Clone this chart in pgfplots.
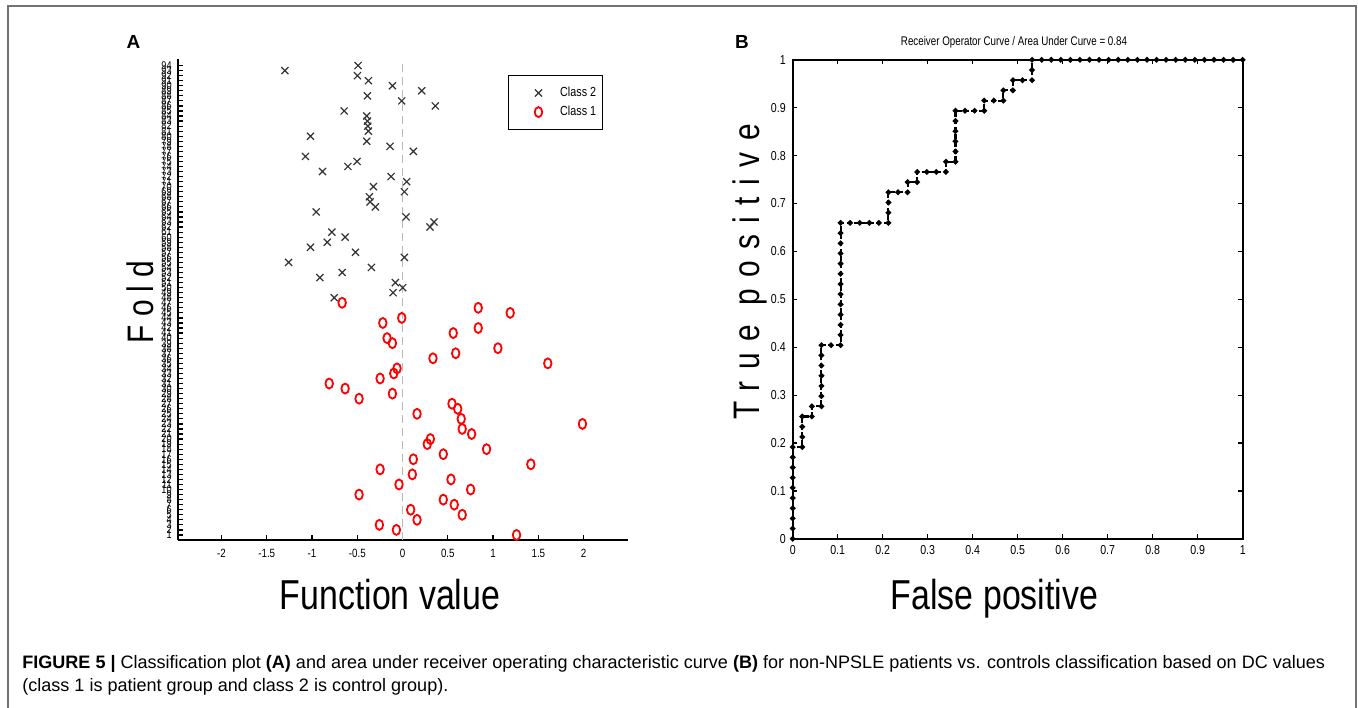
\documentclass[border=0pt]{standalone}
\usepackage{pgfplots}
\pgfplotsset{compat=1.18}
\usepackage{pgfplotstable}
\usepackage{fontspec}
\setmainfont{Liberation Sans}
\newfontfamily\condfont[FakeStretch=0.82]{Liberation Sans}
\newfontfamily\titlefont[FakeStretch=0.78]{Liberation Sans}
\newfontfamily\bigfont[FakeStretch=0.81]{Liberation Sans}

% class 1 (patients) and class 2 (controls): fold, function value
\pgfplotstableread[row sep=\\]{
fold x\\
1 1.259\\ 2 -0.068\\ 3 -0.256\\ 4 0.160\\ 5 0.659\\ 6 0.090\\ 7 0.571\\ 8 0.450\\
9 -0.480\\ 10 0.752\\ 11 -0.039\\ 12 0.535\\ 13 0.108\\ 14 -0.248\\ 15 1.417\\ 16 0.119\\
17 0.450\\ 18 0.928\\ 19 0.273\\ 20 0.307\\ 21 0.763\\ 22 0.659\\ 23 1.987\\ 24 0.648\\
25 0.160\\ 26 0.609\\ 27 0.546\\ 28 -0.480\\ 29 -0.112\\ 30 -0.634\\ 31 -0.810\\ 32 -0.248\\
33 -0.097\\ 34 -0.061\\ 35 1.604\\ 36 0.336\\ 37 0.587\\ 38 1.053\\ 39 -0.112\\ 40 -0.171\\
41 0.560\\ 42 0.836\\ 43 -0.218\\ 44 -0.009\\ 45 1.189\\ 46 0.836\\ 47 -0.667\\
}\classone
\pgfplotstableread[row sep=\\]{
fold x\\
48 -0.755\\ 49 -0.105\\ 50 0.002\\ 51 -0.079\\ 52 -0.913\\ 53 -0.667\\ 54 -0.344\\ 55 -1.259\\
56 0.020\\ 57 -0.520\\ 58 -1.017\\ 59 -0.832\\ 60 -0.634\\ 61 -0.781\\ 62 0.303\\ 63 0.347\\
64 0.039\\ 65 -0.954\\ 66 -0.300\\ 67 -0.358\\ 68 -0.366\\ 69 0.020\\ 70 -0.322\\ 71 0.046\\
72 -0.127\\ 73 -0.884\\ 74 -0.604\\ 75 -0.502\\ 76 -1.072\\ 77 0.119\\ 78 -0.138\\ 79 -0.395\\
80 -1.017\\ 81 -0.377\\ 82 -0.384\\ 83 -0.388\\ 84 -0.395\\ 85 -0.645\\ 86 0.362\\ 87 -0.009\\
88 -0.388\\ 89 0.212\\ 90 -0.112\\ 91 -0.377\\ 92 -0.498\\ 93 -1.299\\ 94 -0.491\\
}\classtwo
% ROC steps, counts of false and true positives out of 47
\pgfplotstableread[row sep=\\]{
fp tp\\
0 0\\ 0 1\\ 0 2\\ 0 3\\ 0 4\\ 0 5\\ 0 6\\ 0 7\\ 0 8\\ 0 9\\
1 9\\ 1 10\\ 1 11\\ 1 12\\ 2 12\\ 2 13\\ 3 13\\
3 14\\ 3 15\\ 3 16\\ 3 17\\ 3 18\\ 3 19\\ 4 19\\ 5 19\\
5 20\\ 5 21\\ 5 22\\ 5 23\\ 5 24\\ 5 25\\ 5 26\\ 5 27\\ 5 28\\ 5 29\\ 5 30\\ 5 31\\
6 31\\ 7 31\\ 8 31\\ 9 31\\ 10 31\\ 10 32\\ 10 33\\ 10 34\\ 11 34\\ 12 34\\
12 35\\ 13 35\\ 13 36\\ 14 36\\ 15 36\\ 16 36\\ 16 37\\ 17 37\\
17 38\\ 17 39\\ 17 40\\ 17 41\\ 17 42\\ 18 42\\ 19 42\\ 20 42\\
20 43\\ 21 43\\ 22 43\\ 22 44\\ 23 44\\ 23 45\\ 24 45\\ 25 45\\ 25 46\\ 25 47\\
26 47\\ 27 47\\ 28 47\\ 29 47\\ 30 47\\ 31 47\\ 32 47\\ 33 47\\ 34 47\\ 35 47\\ 36 47\\
37 47\\ 38 47\\ 39 47\\ 40 47\\ 41 47\\ 42 47\\ 43 47\\ 44 47\\ 45 47\\ 46 47\\ 47 47\\
}\roc

\begin{document}
\begin{tikzpicture}
\path[use as bounding box] (0,0) rectangle (679bp,-354bp);
\draw[black!55, line width=1bp] (3.75bp,-354bp) -- (3.75bp,-3bp) -- (677.75bp,-3bp) -- (677.75bp,-354bp);

% panel A
\begin{axis}[
  at={(89bp,-270bp)}, anchor=south west,
  width=225bp, height=240.5bp, scale only axis,
  xmin=-2.48, xmax=2.49, ymin=0, ymax=95.3,
  axis lines=left, axis line style={-, line width=0.8bp},
  xtick={-2,-1.5,-1,-0.5,0,0.5,1,1.5,2},
  ytick={1,...,94},
  tick align=inside, major tick length=2.3bp,
  tick style={black, line width=0.6bp},
  /pgf/number format/assume math mode=true,
  xticklabel style={font=\condfont\fontsize{6}{7}\selectfont, yshift=-1bp},
  yticklabel style={font=\condfont\fontsize{5.6}{5}\selectfont, inner sep=0pt, xshift=-3bp},
  legend style={at={(0.733,0.967)}, anchor=north west, draw=black, line width=0.7bp,
    font=\condfont\fontsize{6.6}{7}\selectfont, inner xsep=1.3bp, inner ysep=3.6bp, row sep=-0.7bp},
  legend cell align=left,
  legend image code/.code={\path (0cm,0cm) (0.77cm,0cm); \draw[#1] plot coordinates {(0.47cm,0cm)};},
]
\addplot[black!28, line width=0.8bp, dash pattern=on 4bp off 2.5bp, forget plot] coordinates {(0,0) (0,95.3)};
\addplot[only marks, mark=x, mark size=2.5bp, black!80, mark options={line width=0.6bp}]
  table[x=x, y=fold] {\classtwo};
\addlegendentry{Class 2}
\addplot[only marks, mark=o, mark size=2.5bp, red, mark options={line width=0.9bp, xscale=0.75}]
  table[x=x, y=fold] {\classone};
\addlegendentry{Class 1}
\end{axis}

% panel B
\begin{axis}[
  at={(396.35bp,-269.4bp)}, anchor=south west,
  width=225bp, height=239.5bp, scale only axis,
  xmin=0, xmax=1, ymin=0, ymax=1,
  xtick={0,0.1,0.2,0.3,0.4,0.5,0.6,0.7,0.8,0.9,1},
  ytick={0,0.1,0.2,0.3,0.4,0.5,0.6,0.7,0.8,0.9,1},
  axis line style={line width=0.8bp},
  tick align=inside, major tick length=2.3bp,
  tick style={black, line width=0.6bp},
  /pgf/number format/assume math mode=true,
  ticklabel style={font=\condfont\fontsize{6.5}{7}\selectfont},
]
\addplot[black, line width=1.05bp, dash pattern=on 2.5bp off 1.2bp, mark=*, mark size=0.8bp, mark options={solid}]
  table[x expr=\thisrow{fp}/47, y expr=\thisrow{tp}/47] {\roc};
\end{axis}

% labels
\node[font=\bfseries\fontsize{9.5}{10}\selectfont] at (66.75bp,-21bp) {A};
\node[font=\bfseries\fontsize{9.5}{10}\selectfont] at (371bp,-21bp) {B};
\node[font=\titlefont\fontsize{6.3}{7}\selectfont, anchor=base] at (507bp,-22.5bp) {Receiver Operator Curve / Area Under Curve = 0.84};
\node[font=\bigfont\fontsize{21}{22}\selectfont, anchor=base, inner sep=0pt] at (195bp,-304.5bp) {Function value};
\node[font=\bigfont\fontsize{21}{22}\selectfont, anchor=base, inner sep=0pt] at (497.25bp,-304.5bp) {False positive};
\node[font=\bigfont\fontsize{18.5}{20}\selectfont\addfontfeatures{LetterSpace=31}, anchor=base, rotate=90, inner sep=0pt] at (379.5bp,-136bp) {True positive};
\node[font=\bigfont\fontsize{18.5}{20}\selectfont\addfontfeatures{LetterSpace=22}, anchor=base, rotate=90, inner sep=0pt] at (76.5bp,-151bp) {Fold};

% caption
\node[anchor=base west, inner sep=0pt, font=\fontsize{9.05}{10}\selectfont] at (11bp,-334bp)
  {\textbf{FIGURE 5 |} Classification plot \textbf{(A)} and area under receiver operating characteristic curve \textbf{(B)} for non-NPSLE patients vs. controls classification based on DC values};
\node[anchor=base west, inner sep=0pt, font=\fontsize{9.05}{10}\selectfont] at (11bp,-345.5bp)
  {(class 1 is patient group and class 2 is control group).};
\end{tikzpicture}
\end{document}
